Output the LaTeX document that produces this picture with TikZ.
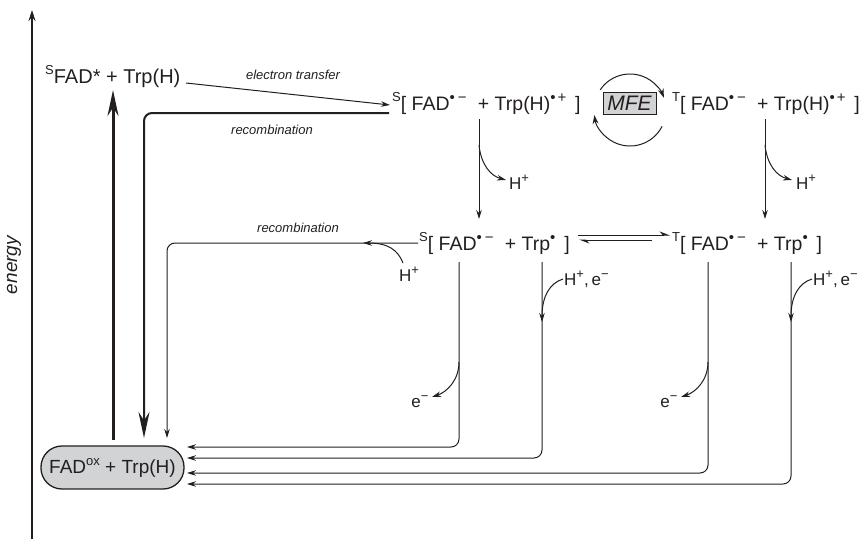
\documentclass[tikz,border=0pt]{standalone}
\usepackage{fontspec}
\setmainfont{Liberation Sans}
\usetikzlibrary{arrows.meta}
\newcommand\sps[1]{\raisebox{0.42em}{\fontsize{13}{13}\selectfont #1}}
\newcommand\rsp[1]{\raisebox{0.40em}{\fontsize{15}{15}\selectfont #1}}
\newcommand\rad{\rsp{•\hspace{3pt}−}}
\newcommand\cat{\rsp{•\hspace{2pt}+}}
\newcommand\dotr{\rsp{•}}
\definecolor{ink}{HTML}{231F20}
\definecolor{boxgray}{HTML}{D2D3D5}
\begin{document}
\begin{tikzpicture}[x=1pt,y=-1pt,
  txt/.style={inner sep=0pt, anchor=base west, font=\fontsize{19.5}{22}\selectfont, text=ink},
  lbl/.style={inner sep=0pt, font=\fontsize{13}{15}\selectfont\itshape, text=ink},
  sm/.style={inner sep=0pt, font=\fontsize{17}{20}\selectfont, text=ink},
  ln/.style={line width=1pt, draw=ink},
  ar/.style={ln, -{Stealth[length=9pt,width=5.5pt]}},
  harp/.style={ln, -{Stealth[length=9pt,width=7pt,harpoon]}},
  thickar/.style={draw=ink, -{Stealth[length=26pt,width=11pt]}},
  rc/.style={rounded corners=8pt}
]
\useasboundingbox (0,0) rectangle (868,539);

% energy axis
\coordinate (axb) at (32,539);
\coordinate (axt) at (32,10);
\draw[ln, line width=1.3pt, -{Stealth[length=11pt,width=7pt]}] (axb) -- (axt);
\node[inner sep=0pt, rotate=90, font=\fontsize{19}{22}\selectfont\itshape, text=ink] (en) at (14,265) {energy};

% states
\node[txt, font=\fontsize{20}{22}\selectfont] (s0) at (45,83) {\sps{S}FAD* + Trp(H)};
\node[txt] (s1) at (392,110) {\sps{S}[ FAD\rad\hspace{0.3em} + Trp(H)\cat\hspace{0.45em}]};
\node[txt] (t1) at (672,110) {\sps{T}[ FAD\rad\hspace{0.3em} + Trp(H)\cat\hspace{0.45em}]};
\node[txt] (s2) at (419,250) {\sps{S}[ FAD\rad\hspace{0.3em} + Trp\dotr\hspace{0.45em}]};
\node[txt] (t2) at (672,250) {\sps{T}[ FAD\rad\hspace{0.3em} + Trp\dotr\hspace{0.45em}]};
\node[draw=ink, fill=boxgray, line width=1.3pt, rounded corners=21pt, minimum width=143pt, minimum height=43pt, inner sep=0pt, font=\fontsize{19}{22}\selectfont, text=ink] (ox) at (112.5,467.5) {FAD\sps{ox} + Trp(H)};
\node[draw=ink, fill=boxgray, line width=1pt, minimum width=53pt, minimum height=22pt, inner sep=0pt, font=\fontsize{21}{21}\selectfont\itshape, text=ink] (mfe) at (629.5,103) {MFE};

% labels
\node[lbl] (let) at (293,75) {electron transfer};
\node[lbl] (rc1) at (272,130) {recombination};
\node[lbl] (rc2) at (298,228) {recombination};
\node[sm] (h1) at (519,182) {H\sps{+}};
\node[sm] (h2) at (806,182) {H\sps{+}};
\node[sm] (h3) at (409,274) {H\sps{+}};
\node[sm, anchor=west] (he1) at (564,279) {H\sps{+},\,e\sps{−}};
\node[sm, anchor=west] (he2) at (813,279) {H\sps{+},\,e\sps{−}};
\node[sm] (e1) at (420,402) {e\sps{−}};
\node[sm] (e2) at (669,402) {e\sps{−}};

% electron transfer
\coordinate (et0) at (186,83);
\coordinate (et1) at (390,105);
\draw[ar] (et0) -- (et1);

% thick excitation arrow
\coordinate (ex0) at (113,440);
\coordinate (ex1) at (113,90);
\draw[thickar, line width=3pt] (ex0) -- (ex1);

% recombination from top singlet
\coordinate (r10) at (389,113);
\coordinate (r1c) at (144,113);
\coordinate (r11) at (144,438);
\draw[thickar, line width=2pt, rc] (r10) -- (r1c) -- (r11);

% recombination from middle singlet
\coordinate (r20) at (418,243);
\coordinate (r2c) at (167,243);
\coordinate (r21) at (167,438);
\draw[ar, rc] (r20) -- (r2c) -- (r21);
\draw[ar] (403,263) .. controls (398,250) and (388,243) .. (363,243);

% MFE cycle
\draw[ln, -{Stealth[length=9pt,width=6pt]}] (630,110) ++(-146:36) arc[start angle=-146, end angle=-20, radius=36];
\draw[ln, -{Stealth[length=9pt,width=6pt]}] (630,110) ++(27:36) arc[start angle=27, end angle=172, radius=36];

% deprotonation arrows
\coordinate (d10) at (479,119);
\coordinate (d11) at (479,219);
\draw[ar] (d10) -- (d11);
\draw[ar] (479,145) .. controls (481,165) and (491,176) .. (506,180);
\coordinate (d20) at (765,119);
\coordinate (d21) at (765,219);
\draw[ar] (d20) -- (d21);
\draw[ar] (765,145) .. controls (767,165) and (777,176) .. (792,180);

% equilibrium
\coordinate (eq0) at (578,235);
\coordinate (eq1) at (670,235);
\coordinate (eq2) at (652,240);
\coordinate (eq3) at (579,240);
\draw[harp] (eq0) -- (eq1);
\draw[harp] (eq2) -- (eq3);

% return paths to ground state
\draw[ar, rc] (459,262) -- (459,447) -- (187,447);
\draw[ar, rc] (542,262) -- (542,458) -- (187,458);
\draw[ar, rc] (708,262) -- (708,473) -- (187,473);
\draw[ar, rc] (791,262) -- (791,484) -- (187,484);

% side branches
\draw[ar] (459,362) .. controls (459,380) and (447,392) .. (432,397);
\draw[ar] (708,362) .. controls (708,380) and (696,392) .. (681,397);
\draw[ar] (563,279) .. controls (550,283) and (542,296) .. (542,322);
\draw[ar] (812,279) .. controls (799,283) and (791,296) .. (791,322);
\end{tikzpicture}
\end{document}
